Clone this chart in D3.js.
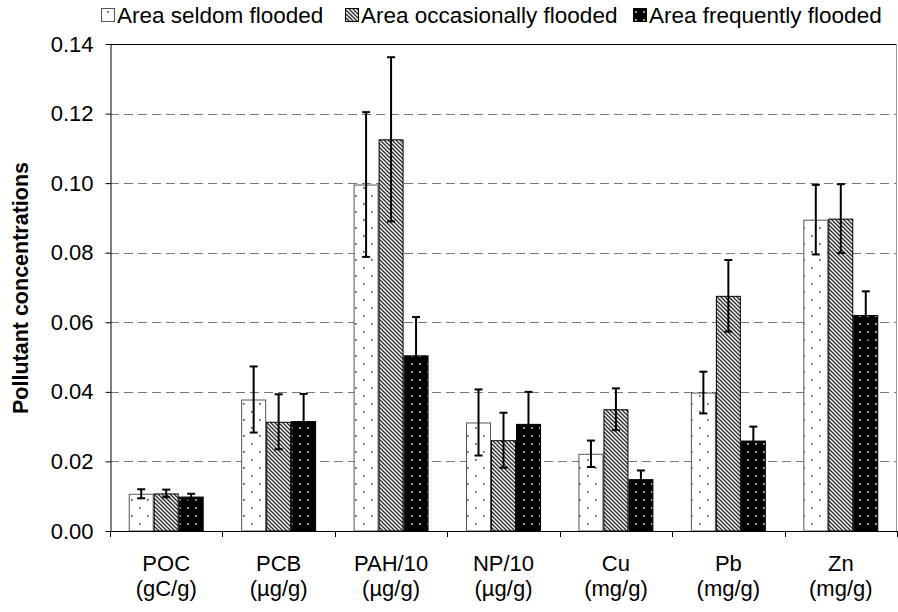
<!DOCTYPE html>
<html><head><meta charset="utf-8">
<script src="https://cdn.jsdelivr.net/npm/d3@7"></script>
<style>body{margin:0;background:#fff}svg{display:block}text{font-family:"Liberation Sans",Arial,sans-serif}</style>
</head><body><svg id="c" width="898" height="612"></svg>
<script>
const categories = ["POC|(gC/g)","PCB|(µg/g)","PAH/10|(µg/g)","NP/10|(µg/g)","Cu|(mg/g)","Pb|(mg/g)","Zn|(mg/g)"];
const seriesNames = ["Area seldom flooded","Area occasionally flooded","Area frequently flooded"];
const seldom = [0.0107,0.0378,0.0996,0.0312,0.0222,0.0398,0.0895];
const occasional = [0.0108,0.0314,0.1126,0.0261,0.0350,0.0676,0.0898];
const frequent = [0.0099,0.0316,0.0505,0.0308,0.0149,0.0260,0.0621];
const seldomErr = [0.0013,0.0095,0.0208,0.0095,0.0038,0.0060,0.0100];
const occasionalErr = [0.0011,0.0079,0.0236,0.0079,0.0060,0.0103,0.0099];
const frequentErr = [0.0008,0.0078,0.0110,0.0092,0.0025,0.0040,0.0068];
const yTicks = [0,0.02,0.04,0.06,0.08,0.10,0.12,0.14];

const values=[seldom,occasional,frequent], errs=[seldomErr,occasionalErr,frequentErr];
const svg=d3.select("#c");
const L=110,R=897,T=44,B=531;
const FS=22;
const defs=svg.append("defs");
const p1=defs.append("pattern").attr("id","pS").attr("patternUnits","userSpaceOnUse").attr("width",16).attr("height",16);
p1.append("rect").attr("width",16).attr("height",16).attr("fill","#fff");
p1.append("rect").attr("x",3).attr("y",3).attr("width",1.6).attr("height",1.6).attr("fill","#444");
p1.append("rect").attr("x",11).attr("y",11).attr("width",1.6).attr("height",1.6).attr("fill","#444");
const p2=defs.append("pattern").attr("id","pO").attr("patternUnits","userSpaceOnUse").attr("width",4).attr("height",4);
p2.append("rect").attr("width",4).attr("height",4).attr("fill","#fff");
p2.append("path").attr("d","M-1,-1L5,5M-1,3L1,5M3,-1L5,1").attr("stroke","#333").attr("stroke-width",1.5);
const p3=defs.append("pattern").attr("id","pF").attr("patternUnits","userSpaceOnUse").attr("width",8).attr("height",8);
p3.append("rect").attr("width",8).attr("height",8).attr("fill","#000");
p3.append("rect").attr("x",3).attr("y",3).attr("width",1.8).attr("height",1.8).attr("fill","#bbb");
const fills=["url(#pS)","url(#pO)","url(#pF)"], strokes=["#555","#000","#000"];

const x=d3.scaleBand().domain(categories).range([L,R]).paddingInner(1/3).paddingOuter(1/6);
const xs=d3.scaleBand().domain([0,1,2]).range([0,x.bandwidth()]);
const y=d3.scaleLinear().domain([0,0.14]).range([B,T]);

svg.append("g").selectAll("line").data(yTicks.filter(v=>v>0&&v<0.14)).join("line")
 .attr("x1",L).attr("x2",R).attr("y1",d=>Math.round(y(d))+0.5).attr("y2",d=>Math.round(y(d))+0.5)
 .attr("stroke","#777").attr("stroke-width",1).attr("stroke-dasharray","9,5");
svg.append("line").attr("x1",L).attr("x2",R).attr("y1",T+0.5).attr("y2",T+0.5).attr("stroke","#000");
svg.append("line").attr("x1",R-0.5).attr("x2",R-0.5).attr("y1",T).attr("y2",B).attr("stroke","#999");

const g=svg.append("g");
values.forEach((vals,s)=>{
 g.selectAll(null).data(vals).join("rect")
  .attr("x",(d,i)=>x(categories[i])+xs(s)+0.5).attr("y",d=>y(d)+0.5)
  .attr("width",xs.bandwidth()-1).attr("height",d=>B-y(d)-0.5)
  .attr("fill",fills[s]).attr("stroke",strokes[s]).attr("stroke-width",1);
});
values.forEach((vals,s)=>{
 const eg=g.append("g").attr("stroke","#000").attr("stroke-width",2);
 vals.forEach((v,i)=>{
  const cx=x(categories[i])+xs(s)+xs.bandwidth()/2, e=errs[s][i];
  eg.append("line").attr("x1",cx).attr("x2",cx).attr("y1",y(v+e)).attr("y2",y(v-e));
  eg.append("line").attr("x1",cx-4).attr("x2",cx+4).attr("y1",y(v+e)).attr("y2",y(v+e));
  eg.append("line").attr("x1",cx-4).attr("x2",cx+4).attr("y1",y(v-e)).attr("y2",y(v-e));
 });
});

const ya=svg.append("g").attr("transform",`translate(${L+0.5},0)`)
 .call(d3.axisLeft(y).tickValues(yTicks).tickFormat(d3.format(".2f")).tickSize(5).tickSizeOuter(0));
ya.select(".domain").attr("stroke","#000");
ya.selectAll("line").attr("stroke","#000");
ya.selectAll("text").attr("font-size",FS).attr("fill","#000").attr("x",-17).style("font-family","Liberation Sans, Arial, sans-serif");
svg.append("line").attr("x1",L).attr("x2",R).attr("y1",B+0.5).attr("y2",B+0.5).attr("stroke","#000");
const step=(R-L)/categories.length;
svg.append("g").selectAll("line").data(d3.range(categories.length+1)).join("line")
 .attr("x1",i=>Math.round(L+i*step)+0.5).attr("x2",i=>Math.round(L+i*step)+0.5)
 .attr("y1",B).attr("y2",B+6).attr("stroke","#000");
const xl=svg.append("g").selectAll("text").data(categories).join("text")
 .attr("text-anchor","middle").attr("font-size",FS).attr("fill","#000")
 .attr("transform",d=>`translate(${x(d)+x.bandwidth()/2},0)`);
xl.append("tspan").attr("x",0).attr("y",571).text(d=>d.split("|")[0]);
xl.append("tspan").attr("x",0).attr("y",596).text(d=>d.split("|")[1]);

svg.append("text").attr("transform","translate(28,288) rotate(-90)").attr("text-anchor","middle")
 .attr("font-size",21.5).attr("font-weight","bold").attr("fill","#000").text("Pollutant concentrations");

const lx=[101,345,633];
seriesNames.forEach((n,s)=>{
 svg.append("rect").attr("x",lx[s]+0.5).attr("y",8.5).attr("width",13).attr("height",13)
  .attr("fill",fills[s]).attr("stroke",strokes[s]);
 svg.append("text").attr("x",lx[s]+16).attr("y",23).attr("font-size",22.5).attr("fill","#000").text(n);
});
</script></body></html>
